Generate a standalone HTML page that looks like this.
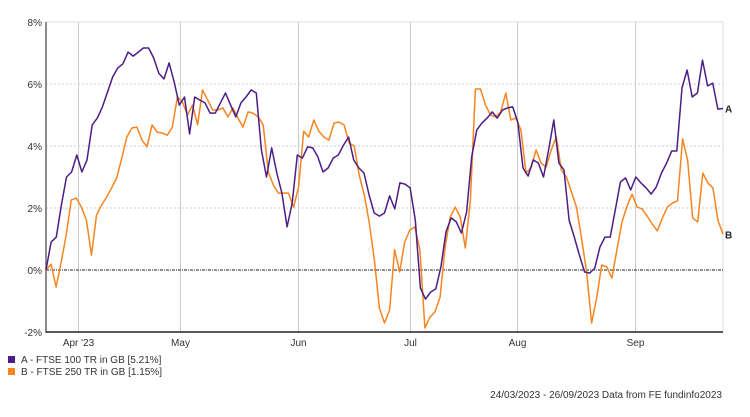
<!DOCTYPE html>
<html><head><meta charset="utf-8"><style>
html,body{margin:0;padding:0;background:#fff;width:750px;height:417px;overflow:hidden}
svg{display:block;font-family:"Liberation Sans",sans-serif}
</style></head><body>
<svg id="chart" width="750" height="417" viewBox="0 0 750 417" xmlns="http://www.w3.org/2000/svg"></svg>
<script>
const yTicks=[8,6,4,2,0,-2];
const months=["Apr '23","May","Jun","Jul","Aug","Sep"];
const monthDays=[8.8,36.8,69.2,100,129.4,161.8];
const totalDays=186;
const seriesA=[0,0.90,1.06,2.10,3.00,3.16,3.71,3.16,3.55,4.68,4.90,5.26,5.74,6.23,6.52,6.65,7.03,6.90,7.03,7.16,7.16,6.84,6.35,6.16,6.68,6.06,5.32,5.58,4.39,5.58,5.48,5.39,5.06,5.06,5.39,5.71,5.32,4.94,5.39,5.58,5.81,5.71,3.87,3.00,3.94,3.13,2.48,1.39,2.16,3.71,3.61,3.97,3.94,3.65,3.16,3.29,3.61,3.71,4.03,4.29,3.55,3.29,3.13,2.42,1.84,1.74,1.84,2.39,1.97,2.81,2.77,2.65,1.61,-0.58,-0.94,-0.71,-0.61,0.10,1.23,1.68,1.55,1.19,1.87,3.65,4.52,4.74,4.90,5.10,4.90,5.16,5.23,5.26,4.77,3.29,3.03,3.55,3.45,3.00,3.87,4.84,3.45,3.23,1.61,1.06,0.48,-0.06,-0.10,0.06,0.74,1.06,1.06,1.94,2.84,2.97,2.58,3.00,2.81,2.65,2.45,2.68,3.13,3.45,3.84,3.84,5.87,6.45,5.58,5.71,6.77,5.94,6.03,5.19,5.21];
const seriesB=[0,0.19,-0.55,0.26,1.13,2.26,2.32,2.03,1.61,0.48,1.77,2.10,2.35,2.65,2.97,3.61,4.29,4.58,4.61,4.19,3.97,4.68,4.45,4.42,4.35,4.61,5.58,5.42,5.00,5.32,4.68,5.81,5.48,5.16,5.16,5.23,4.94,5.23,4.90,4.61,5.10,5.06,4.94,4.68,3.16,2.74,2.48,2.48,2.48,2.03,2.68,4.48,4.29,4.84,4.48,4.29,4.19,4.74,4.77,4.68,4.10,4.00,3.06,2.42,1.52,0.32,-1.23,-1.71,-1.29,0.65,-0.06,0.90,1.29,1.39,0.65,-1.87,-1.52,-1.35,-0.87,0.74,1.71,2.03,1.71,0.71,2.26,5.84,5.84,5.32,5.00,4.94,5.10,5.71,4.84,4.90,4.52,3.13,3.29,3.87,3.45,3.32,3.87,4.29,3.23,3.00,2.52,2.03,1.03,-0.06,-1.71,-0.90,0.16,0.10,-0.26,0.65,1.55,2.06,2.45,2.03,1.97,1.74,1.48,1.26,1.68,2.03,2.16,2.23,4.23,3.55,1.68,1.55,3.13,2.81,2.65,1.61,1.15];
const legendLabels=["A - FTSE 100 TR in GB [5.21%]","B - FTSE 250 TR in GB [1.15%]"];
const colors=["#4b1e87","#f7851f"];

const L=46,R=723,T=22,B=332;
const yS=v=>T+(8-v)*(B-T)/10;
const xD=d=>L+d*(R-L)/totalDays;
const xI=(i,n)=>L+i*(R-L)/(n-1);
const NS="http://www.w3.org/2000/svg";
const svg=document.getElementById('chart');
function mk(tag,attrs,parent){const e=document.createElementNS(NS,tag);for(const k in attrs)e.setAttribute(k,attrs[k]);(parent||svg).appendChild(e);return e;}

let f=mk('rect',{x:L,y:T,width:R-L,height:B-T,fill:'none',stroke:'#dddddd','stroke-width':1});


monthDays.forEach((d,i)=>{
  const x=Math.round(xD(d))+0.5;
  const g=mk('line',{x1:x,x2:x,y1:T,y2:B,stroke:'#cccccc','stroke-width':1});
  
  
  const t=mk('text',{x:x,y:B+14,'text-anchor':'middle','font-size':10,fill:'#333'});
  t.textContent=months[i];
  
  
});
yTicks.forEach(v=>{
  const y=yS(v);
  if(v!==8&&v!==-2){
    const g=mk('line',{x1:L,x2:R,y1:y,y2:y,stroke:v===0?'#222':'#cccccc','stroke-width':1,'stroke-dasharray':v===0?'3,1,1,1':'2,2'});
    
    
  }
  const t=mk('text',{x:42,y:y+4,'text-anchor':'end','font-size':10,fill:'#333'});
  t.textContent=v+'%';
  
  
});
let ax=mk('line',{x1:L,x2:L,y1:T,y2:B+1,stroke:'#666','stroke-width':1.5});


let bx=mk('line',{x1:L,x2:R,y1:B,y2:B,stroke:'#222','stroke-width':1.5});


[[seriesB,colors[1],'series-b-line'],[seriesA,colors[0],'series-a-line']].forEach(([s,c,n])=>{
  const pts=s.map((v,i)=>xI(i,s.length).toFixed(1)+','+yS(v).toFixed(1)).join(' ');
  const p=mk('polyline',{points:pts,fill:'none',stroke:c,'stroke-width':1.5,'stroke-linejoin':'round'});
  
  
});
[[seriesA,'A'],[seriesB,'B']].forEach(([s,l])=>{
  const t=mk('text',{x:R+2,y:yS(s[s.length-1])+4,'font-size':10,'font-weight':'bold',fill:'#222'});
  t.textContent=l;
  
  
});
legendLabels.forEach((lab,i)=>{
  const y=356+i*12;
  const r=mk('rect',{x:8,y:y,width:7,height:7,fill:colors[i]});
  
  
  const t=mk('text',{x:21,y:y+7,'font-size':10,fill:'#333'});
  t.textContent=lab;
  
  
});
const ft=mk('text',{x:722,y:398,'text-anchor':'end','font-size':10,fill:'#333'});
ft.textContent='24/03/2023 - 26/09/2023 Data from FE fundinfo2023';


</script>
</body></html>
